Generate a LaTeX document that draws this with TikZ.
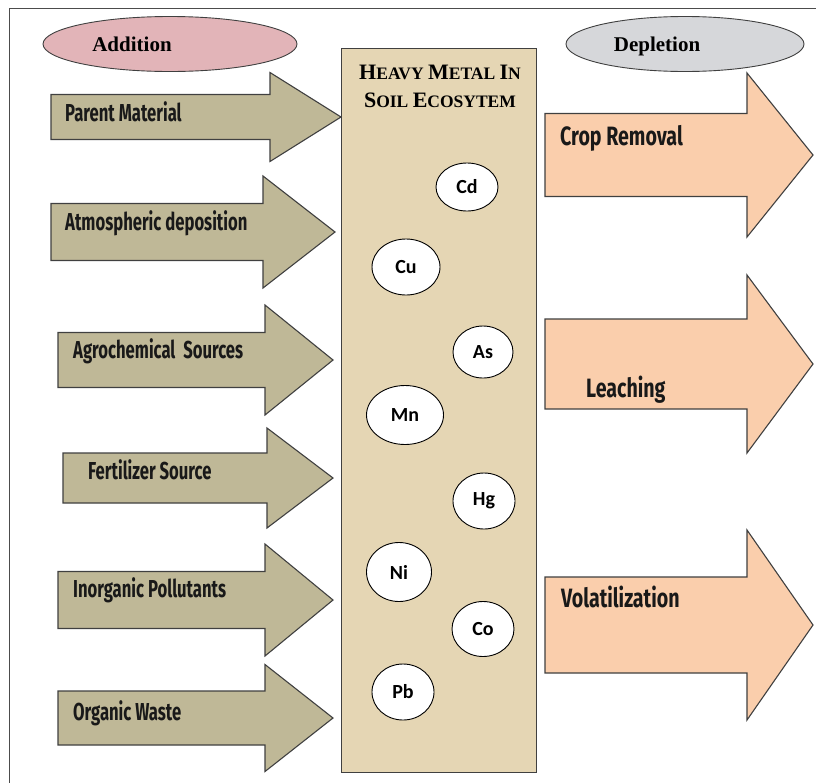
\documentclass[tikz,border=0pt]{standalone}
\usepackage{fontspec}
\usetikzlibrary{shapes.geometric}
\newfontfamily\arrowfont[FakeStretch=0.68]{Fira Sans}
\newfontfamily\losfont[FakeStretch=0.74]{Fira Sans}
\newfontfamily\headfont{Liberation Serif}
\newfontfamily\metalfont{Carlito}
\definecolor{khaki}{RGB}{191,184,151}
\definecolor{peach}{RGB}{250,206,172}
\definecolor{parchment}{RGB}{229,214,180}
\definecolor{rosy}{RGB}{226,180,184}
\definecolor{marble}{RGB}{214,215,218}
\definecolor{edge}{RGB}{64,64,64}
\newcommand\bigini[1]{{\fontsize{22}{22}\selectfont #1}}

\tikzset{
  inarrow/.style={fill=khaki, draw=edge, line width=1.1pt, line join=miter},
  outarrow/.style={fill=peach, draw=edge, line width=1.1pt, line join=miter},
  srclabel/.style={anchor=base west, inner sep=0pt, text=black!90,
    font=\arrowfont\bfseries\fontsize{24.5}{24.5}\selectfont},
  loslabel/.style={anchor=base west, inner sep=0pt, text=black!90,
    font=\losfont\bfseries\fontsize{26.5}{26.5}\selectfont},
  metal/.style={ellipse, draw=black, fill=white, line width=0.9pt, inner sep=0pt,
    font=\metalfont\bfseries\fontsize{20}{20}\selectfont},
  headcap/.style={ellipse, draw=edge, line width=0.9pt, minimum width=254pt, minimum height=55pt},
  captext/.style={anchor=base, inner sep=0pt, font=\headfont\bfseries\fontsize{21}{21}\selectfont},
  titletext/.style={anchor=base, inner sep=0pt, font=\headfont\bfseries\fontsize{17.5}{17.5}\selectfont},
}

\begin{document}
\begin{tikzpicture}[x=1pt,y=-1pt]
  \useasboundingbox (0,0) rectangle (816,782);
  \fill[white] (0,0) rectangle (816,782);
  \clip (0,0) rectangle (816,782);
  \draw[gray!60!black, line width=0.8pt] (9,8) rectangle (850,820); % outer frame

  % headings
  \node[headcap, fill=rosy] (addcap) at (170,44) {};
  \node[captext] (addition) at (132,51) {Addition};
  \node[headcap, fill=marble, minimum width=238pt] (depcap) at (685,44) {};
  \node[captext] (depletion) at (657,51) {Depletion};

  % soil column
  \node[rectangle, draw=edge, fill=parchment, line width=1.3pt, anchor=north west,
    minimum width=195pt, minimum height=724pt] (soil) at (341,48) {};
  \node[titletext] (title1) at (440,79) {\bigini{H}EAVY \bigini{M}ETAL \bigini{I}N};
  \node[titletext] (title2) at (440,107) {\bigini{S}OIL \bigini{E}COSYTEM};

  % sources (left)
  \foreach \xl/\ym/\sh/\hh/\xb/\xt in {51/117/22.5/44.5/270/341, 51/232/28.5/56/263/335,
      58/360/27.5/55/265/333, 63/478/25/50/267/333, 58/600/28.5/56/265/333, 58/718/27/53.5/265/333}
    \draw[inarrow] (\xl,\ym-\sh) -- (\xb,\ym-\sh) -- (\xb,\ym-\hh) -- (\xt,\ym)
      -- (\xb,\ym+\hh) -- (\xb,\ym+\sh) -- (\xl,\ym+\sh) -- cycle;
  \node[srclabel] (parent) at (65,121) {Parent Material};
  \node[srclabel] (atmos) at (65,230) {Atmospheric deposition};
  \node[srclabel] (agro) at (73,358) {Agrochemical\ \ Sources};
  \node[srclabel] (fert) at (88,479) {Fertilizer Source};
  \node[srclabel] (inorg) at (73,597) {Inorganic Pollutants};
  \node[srclabel] (org) at (73,720) {Organic Waste};

  % losses (right)
  \foreach \xl/\ym/\sh/\hh/\xb/\xt in {545/155/41.5/82/747/813, 545/364/45/89/747/813,
      545/625/48/95/747/813}
    \draw[outarrow] (\xl,\ym-\sh) -- (\xb,\ym-\sh) -- (\xb,\ym-\hh) -- (\xt,\ym)
      -- (\xb,\ym+\hh) -- (\xb,\ym+\sh) -- (\xl,\ym+\sh) -- cycle;
  \node[loslabel] (crop) at (560,145) {Crop Removal};
  \node[loslabel] (leach) at (586,397) {Leaching};
  \node[loslabel] (volat) at (561,607) {Volatilization};

  % metals
  \node[metal, minimum width=62pt, minimum height=48pt] (cd) at (467,187) {Cd};
  \node[metal, minimum width=68pt, minimum height=56pt] (cu) at (406,267) {Cu};
  \node[metal, minimum width=60pt, minimum height=52pt] (as) at (483,352) {As};
  \node[metal, minimum width=77pt, minimum height=59pt] (mn) at (405,415) {Mn};
  \node[metal, minimum width=62pt, minimum height=56pt] (hg) at (484,501) {Hg};
  \node[metal, minimum width=65pt, minimum height=59pt] (ni) at (399,572) {Ni};
  \node[metal, minimum width=62pt, minimum height=55pt] (co) at (483,629) {Co};
  \node[metal, minimum width=62pt, minimum height=56pt] (pb) at (403,692) {Pb};
\end{tikzpicture}
\end{document}
